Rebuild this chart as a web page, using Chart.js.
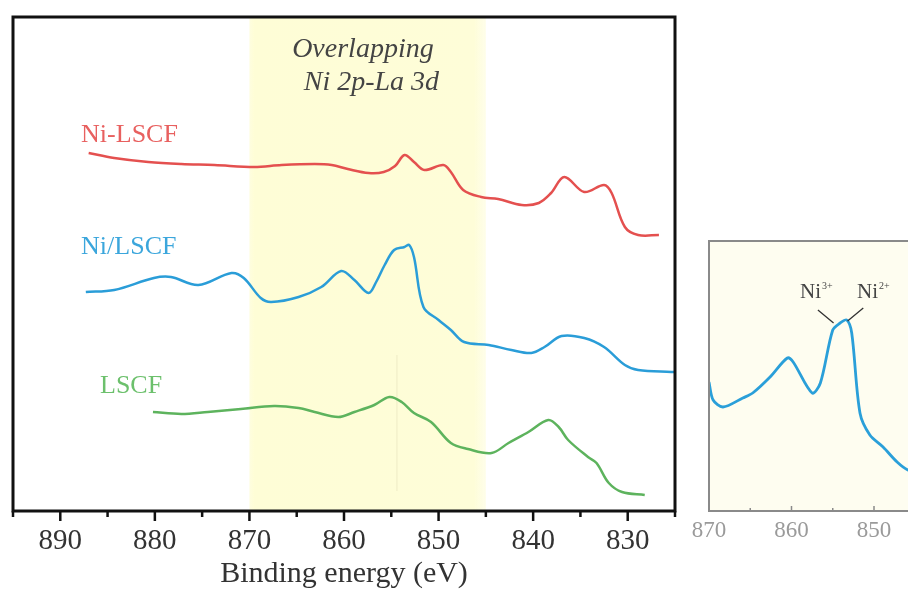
<!DOCTYPE html>
<html>
<head>
<meta charset="utf-8">
<script src="https://cdn.jsdelivr.net/npm/chart.js@4/dist/chart.umd.min.js"></script>
<style>
  html, body { margin: 0; padding: 0; background: #fff; overflow: hidden; width: 908px; height: 591px; }
  #main { position: absolute; left: 0; top: 0; }
  #inset { position: absolute; left: 680px; top: 230px; }
</style>
</head>
<body>
<canvas id="main" width="908" height="591"></canvas>
<canvas id="inset" width="260" height="361"></canvas>
<script>
// binding energy (eV) / intensity (a.u., offset per sample)
const redEnergy = [887.0, 884.3, 880.7, 877.2, 873.7, 869.5, 866.6, 863.1, 861.3, 859.6, 857.4, 855.8, 854.6, 853.6, 852.6, 851.5, 849.5, 848.7, 847.4, 845.5, 843.7, 841.2, 839.4, 838.1, 836.7, 834.6, 832.5, 831.7, 830.3, 828.9, 826.7];
const redIntensity = [358, 353, 349, 347, 346, 344, 346, 347, 346, 342, 338, 339, 345, 356, 349, 341, 346, 339, 321, 314, 312, 306, 308, 318, 334, 319, 326, 318, 284, 276, 276];

const blueEnergy = [887.3, 884.3, 880.1, 878.3, 875.4, 871.9, 870.6, 868.8, 867.7, 864.8, 862.4, 860.3, 858.9, 857.4, 856.6, 855.7, 854.7, 853.6, 853.1, 852.6, 851.6, 850.0, 848.7, 847.3, 844.7, 842.3, 840.2, 838.8, 837.0, 834.6, 832.5, 830.3, 828.9, 825.4, 825.0];
const blueIntensity = [219, 221, 233, 234, 226, 238, 233, 213, 209, 214, 224, 240, 231, 218, 229, 246, 261, 264, 266, 254, 204, 191, 181, 169, 166, 161, 158, 164, 175, 173, 164, 146, 141, 139, 139];

const greenEnergy = [880.2, 877.2, 874.4, 870.9, 867.4, 864.8, 863.1, 860.6, 858.9, 856.8, 855.2, 853.9, 852.6, 850.8, 848.7, 846.9, 844.4, 842.6, 840.5, 838.4, 837.3, 836.3, 834.2, 833.3, 832.0, 830.6, 828.2];
const greenIntensity = [99, 97, 99, 102, 105, 103, 99, 94, 99, 106, 114, 109, 98, 89, 68, 62, 58, 68, 79, 91, 84, 71, 54, 48, 28, 19, 16];

// inset: Ni/LSCF zoomed on Ni 2p3/2
const insetEnergy = [870.0, 869.5, 868.3, 865.9, 864.7, 862.6, 860.5, 859.8, 857.5, 856.5, 855.0, 854.1, 853.3, 852.7, 851.7, 850.5, 848.9, 847.2, 845.9, 844.5];
const insetIntensity = [129, 111, 104, 113, 118, 134, 153, 149, 118, 128, 181, 188, 191, 178, 98, 76, 64, 49, 41, 38];

const overlapRange = [870, 845];
const serif = "'Liberation Serif', 'Times New Roman', serif";

function pts(xs, ys) {
  return xs.map((x, i) => ({ x: x, y: ys[i] }));
}

// yellow overlapping region
const bandPlugin = {
  id: 'band',
  beforeDatasetsDraw(chart) {
    const { ctx, chartArea, scales } = chart;
    const x0 = scales.x.getPixelForValue(overlapRange[0]);
    const x1 = scales.x.getPixelForValue(overlapRange[1]);
    const g = ctx.createLinearGradient(x0, 0, x1, 0);
    g.addColorStop(0, 'rgba(253,252,210,0.7)');
    g.addColorStop(0.02, 'rgb(254,253,214)');
    g.addColorStop(0.95, 'rgb(254,253,216)');
    g.addColorStop(1, 'rgba(254,253,220,0.6)');
    ctx.save();
    ctx.fillStyle = g;
    ctx.fillRect(x0, chartArea.top, x1 - x0, chartArea.bottom - chartArea.top);
    // faint guide line
    const xl = scales.x.getPixelForValue(854.4);
    ctx.strokeStyle = 'rgba(225,220,180,0.5)';
    ctx.lineWidth = 1;
    ctx.beginPath();
    ctx.moveTo(xl, scales.y.getPixelForValue(156));
    ctx.lineTo(xl, scales.y.getPixelForValue(20));
    ctx.stroke();
    ctx.restore();
  }
};

function drawTicks(chart, color, width, major, minor, inward) {
  const { ctx, chartArea, scales } = chart;
  ctx.save();
  ctx.strokeStyle = color;
  ctx.lineWidth = width;
  scales.x.ticks.forEach(t => {
    const px = scales.x.getPixelForValue(t.value);
    const len = t.value % 10 === 0 ? major : minor;
    ctx.beginPath();
    ctx.moveTo(px, chartArea.bottom);
    ctx.lineTo(px, inward ? chartArea.bottom - len : chartArea.bottom + len);
    ctx.stroke();
  });
  ctx.restore();
}

function text(ctx, str, x, y, font, color, align) {
  ctx.font = font;
  ctx.fillStyle = color;
  ctx.textAlign = align || 'left';
  ctx.textBaseline = 'alphabetic';
  ctx.fillText(str, x, y);
}

const mainDecor = {
  id: 'mainDecor',
  afterDraw(chart) {
    const { ctx, chartArea, scales } = chart;
    const X = v => scales.x.getPixelForValue(v);
    const Y = v => scales.y.getPixelForValue(v);
    ctx.save();
    ctx.strokeStyle = '#111';
    ctx.lineWidth = 3;
    ctx.strokeRect(chartArea.left, chartArea.top, chartArea.right - chartArea.left, chartArea.bottom - chartArea.top);
    ctx.restore();
    drawTicks(chart, '#111', 2.5, 10, 6, false);

    ctx.save();
    text(ctx, 'Overlapping', X(858), Y(454), 'italic 28px ' + serif, '#444', 'center');
    text(ctx, 'Ni 2p-La 3d', X(857.1), Y(421), 'italic 28px ' + serif, '#444', 'center');
    text(ctx, 'Ni-LSCF', X(887.8), Y(369), '26px ' + serif, '#e8605f');
    text(ctx, 'Ni/LSCF', X(887.8), Y(257), '26px ' + serif, '#3ba6dc');
    text(ctx, 'LSCF', X(885.8), Y(118), '26px ' + serif, '#6cc06c');
    ctx.restore();
  }
};

new Chart(document.getElementById('main'), {
  type: 'line',
  data: {
    datasets: [
      { label: 'Ni-LSCF', data: pts(redEnergy, redIntensity), borderColor: '#e4504f' },
      { label: 'Ni/LSCF', data: pts(blueEnergy, blueIntensity), borderColor: '#2a9dd8' },
      { label: 'LSCF', data: pts(greenEnergy, greenIntensity), borderColor: '#5db35d' }
    ]
  },
  options: {
    responsive: false,
    animation: false,
    elements: {
      point: { radius: 0 },
      line: { borderWidth: 2.5, tension: 0.35 }
    },
    layout: { padding: { left: 12, right: 233, top: 17, bottom: 0 } },
    plugins: { legend: { display: false }, tooltip: { enabled: false } },
    scales: {
      x: {
        type: 'linear',
        min: 825,
        max: 895,
        reverse: true,
        border: { display: false },
        grid: { display: false, drawTicks: false },
        ticks: {
          stepSize: 5,
          autoSkip: false,
          maxRotation: 0,
          padding: 13,
          color: '#333',
          font: { family: serif, size: 29 },
          callback: v => (v % 10 === 0 ? String(v) : '')
        },
        title: {
          display: true,
          text: 'Binding energy (eV)',
          color: '#333',
          font: { family: serif, size: 30, lineHeight: 1.1 },
          padding: { top: 0, bottom: 0 }
        },
        afterFit: s => { s.height = 80; }
      },
      y: { display: false, min: 0, max: 494 }
    }
  },
  plugins: [bandPlugin, mainDecor]
});

const insetDecor = {
  id: 'insetDecor',
  beforeDatasetsDraw(chart) {
    const { ctx, chartArea } = chart;
    ctx.save();
    ctx.fillStyle = 'rgb(254,253,240)';
    ctx.fillRect(chartArea.left, chartArea.top, chartArea.right - chartArea.left, chartArea.bottom - chartArea.top);
    ctx.restore();
  },
  afterDraw(chart) {
    const { ctx, chartArea, scales } = chart;
    const X = v => scales.x.getPixelForValue(v);
    const Y = v => scales.y.getPixelForValue(v);
    ctx.save();
    ctx.strokeStyle = '#8a8a8a';
    ctx.lineWidth = 2;
    ctx.beginPath();
    ctx.moveTo(chartArea.right + 5, chartArea.top);
    ctx.lineTo(chartArea.left, chartArea.top);
    ctx.lineTo(chartArea.left, chartArea.bottom);
    ctx.lineTo(chartArea.right + 5, chartArea.bottom);
    ctx.stroke();
    ctx.restore();
    drawTicks(chart, '#8a8a8a', 1.5, 5, 3, true);

    ctx.save();
    ctx.strokeStyle = '#333';
    ctx.lineWidth = 1.3;
    ctx.beginPath();
    ctx.moveTo(X(856.8), Y(201)); ctx.lineTo(X(854.9), Y(188));
    ctx.moveTo(X(851.3), Y(203)); ctx.lineTo(X(853.2), Y(190));
    ctx.stroke();
    text(ctx, 'Ni', X(858.97), Y(213), '21px ' + serif, '#444');
    text(ctx, '3+', X(858.97) + 22, Y(222), '10px ' + serif, '#444');
    text(ctx, 'Ni', X(852.06), Y(213), '21px ' + serif, '#444');
    text(ctx, '2+', X(852.06) + 22, Y(222), '10px ' + serif, '#444');
    ctx.restore();
  }
};

new Chart(document.getElementById('inset'), {
  type: 'line',
  data: {
    datasets: [
      { label: 'Ni/LSCF', data: pts(insetEnergy, insetIntensity), borderColor: '#2a9fd9' }
    ]
  },
  options: {
    responsive: false,
    animation: false,
    elements: {
      point: { radius: 0 },
      line: { borderWidth: 2.8, tension: 0.3 }
    },
    layout: { padding: { left: 29, right: 16.5, top: 11, bottom: 0 } },
    plugins: { legend: { display: false }, tooltip: { enabled: false } },
    scales: {
      x: {
        type: 'linear',
        min: 844,
        max: 870,
        reverse: true,
        border: { display: false },
        grid: { display: false, drawTicks: false },
        ticks: {
          stepSize: 5,
          autoSkip: false,
          maxRotation: 0,
          padding: 6,
          color: '#9a9a9a',
          font: { family: serif, size: 23 },
          callback: v => (v % 10 === 0 ? String(v) : '')
        },
        afterFit: s => { s.height = 80; }
      },
      y: { display: false, min: 0, max: 270 }
    }
  },
  plugins: [insetDecor]
});
</script>
</body>
</html>
